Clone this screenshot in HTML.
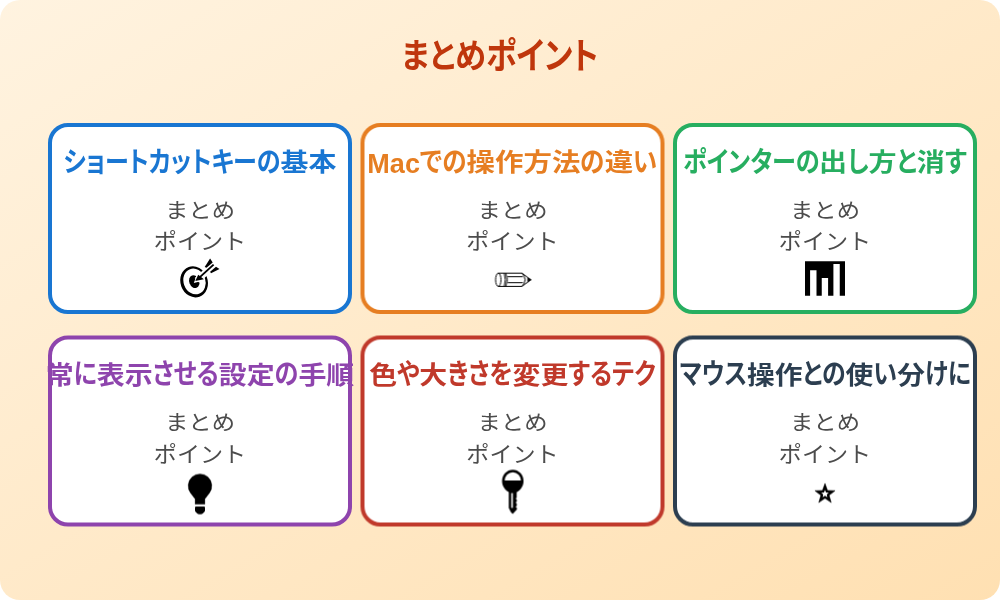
<!DOCTYPE html>
<html lang="ja">
<head>
<meta charset="utf-8">
<title>まとめポイント</title>
<style>
*{box-sizing:border-box;margin:0;padding:0}
html,body{width:1000px;height:600px;background:#fff;overflow:hidden}
body{font-family:"Liberation Sans","Noto Sans CJK JP",sans-serif;position:relative}
.bg{position:absolute;left:0;top:0;width:1000px;height:600px;border-radius:20px;background:linear-gradient(to bottom right,#FFF3E0 0%,#FFE0B2 100%)}
h1{will-change:transform;position:absolute;left:0;top:34px;width:1000px;text-align:center;font-size:34px;line-height:44px;font-weight:700;color:#BF360C;white-space:nowrap;font-feature-settings:"palt"}
h1 span{display:inline-block;transform:scaleX(.912)}
h1 i{display:inline-block;font-style:normal;transform:translateY(.5px) scaleY(1.07)}
.card{position:absolute;width:304px;height:191px;background:#fff;border:4px solid;border-radius:20px}
.card h2{will-change:transform;position:absolute;left:-54px;top:17.5px;width:404px;text-align:center;font-size:24.5px;line-height:36px;font-weight:700;white-space:nowrap;font-feature-settings:"palt"}
.card h2 b{font-size:27px;font-weight:700;line-height:0;position:relative;top:1.5px}
.card h2 span{display:inline-block;transform-origin:50% 50%}
.card h2 i{display:inline-block;font-style:normal}
.card h2 i.k{transform:translateY(-.6px) scaleY(1.15);transform-origin:50% 46%}
.card h2 i.j{transform:scaleX(1.16)}
.card h2 i.j1{margin:0 1.96px}
.card h2 i.j2{margin:0 3.92px}
.card h2 i.j3{margin:0 5.88px}
.card h2 i.j4{margin:0 7.84px}
.card p{will-change:transform;position:absolute;left:-4px;width:304px;text-align:center;font-size:22px;line-height:30px;color:#4c4c4c;white-space:nowrap;font-weight:400}
.card p span{display:inline-block;transform:scaleX(1.05)}
.card p.l1 span{transform:scale(1.06,.94)}
.card p.l1{top:69px}
.card p.l2{top:100px}
.c1{left:48px;top:123px;border-color:#1976D2;color:#1976D2}
.c2{left:360px;top:123px;transform:translate(.5px,0);border-color:#E67E22;color:#E67E22}
.c3{left:673px;top:123px;border-color:#27AE60;color:#27AE60}
.c4{left:48px;top:335px;transform:translate(0,.5px);border-color:#8E44AD;color:#8E44AD}
.c5{left:360px;top:335px;transform:translate(.5px,.5px);border-color:#C0392B;color:#C0392B}
.c6{left:673px;top:335px;transform:translate(0,.5px);border-color:#2C3E50;color:#2C3E50}
.ico{position:absolute;display:block;overflow:visible}
</style>
</head>
<body>
<div class="bg"></div>
<h1><span>まとめ<i>ポイント</i></span></h1>

<div class="card c1">
  <h2><span style="transform:scaleX(0.982)"><i class="k">ショートカットキーの</i><i class="j j2">基本</i></span></h2>
  <p class="l1"><span>まとめ</span></p><p class="l2"><span>ポイント</span></p>
  <svg class="ico" style="left:123px;top:128px" width="50" height="45" viewBox="175 255 50 45">
    <g transform="rotate(-20 194.1 281.8)"><ellipse cx="194.1" cy="281.8" rx="13.6" ry="15.8" fill="#000"/><ellipse cx="194.6" cy="281.6" rx="10.9" ry="13.1" fill="#fff"/><ellipse cx="194.3" cy="281.7" rx="5" ry="6.6" fill="#000"/></g>
    <line x1="197" y1="280.4" x2="207" y2="271" stroke="#fff" stroke-width="6.6"/>
    <polygon points="193.8,283.1 197.5,273.3 205.6,280.1" fill="#fff"/>
    <polygon points="195.25,280.9 198.25,274.65 203.9,279.15" fill="#000"/>
    <line x1="198.5" y1="278.4" x2="213.6" y2="264.6" stroke="#000" stroke-width="1.9"/>
    <polygon points="210.1,258.6 212.7,262.4 206.5,267.8 204.7,267.1" fill="#000"/>
    <polygon points="219.5,268.9 216,266.7 210.1,271.8 211,273.2" fill="#000"/>
  </svg>
</div>
<div class="card c2">
  <h2><span style="transform:scaleX(1.001)"><b>Mac</b><i class="k">での</i><i class="j j4">操作方法</i><i class="k">の</i><i class="j j1">違</i><i class="k">い</i></span></h2>
  <p class="l1"><span>まとめ</span></p><p class="l2"><span>ポイント</span></p>
  <svg class="ico" style="left:125.5px;top:138px" width="45" height="30" viewBox="490 265 45 30" fill="none" stroke="#000" stroke-width="1" stroke-linejoin="round">
    <path d="M497.8 273.2 H521.5 L530.4 279.8 L521.5 286.4 H497.8"/>
    <ellipse cx="497.8" cy="279.8" rx="2.7" ry="6.6"/>
    <path d="M503.8 273.2 Q505.8 279.8 503.8 286.4 M505.4 273.2 Q507.8 279.8 505.4 286.4"/>
    <path d="M506.8 276.7 H522.4 M506.8 282.7 H522.4"/>
    <path d="M507.4 276.7 V282.7" stroke="#aaa" stroke-width=".6"/>
    <path d="M521.5 273.2 Q527.6 279.8 521.5 286.4"/>
    <polygon points="527.2,277.8 530.5,279.8 527.2,281.8" fill="#000" stroke-width=".6"/>
  </svg>
</div>
<div class="card c3">
  <h2><span style="transform:scaleX(0.986)"><i class="k">ポインターの</i><i class="j j1">出</i><i class="k">し</i><i class="j j1">方</i><i class="k">と</i><i class="j j1">消</i><i class="k">す</i></span></h2>
  <p class="l1"><span>まとめ</span></p><p class="l2"><span>ポイント</span></p>
  <svg class="ico" style="left:123px;top:129px" width="50" height="45" viewBox="800 256 50 45">
    <path fill="#000" d="M805 261.25 H845 V295.75 H839.75 V263.9 H833.4 V295.75 H828.1 V278.1 H821.75 V295.75 H816.5 V270.25 H810.1 V295.75 H805 Z"/>
  </svg>
</div>
<div class="card c4">
  <h2><span style="transform:scaleX(0.983)"><i class="j j1">常</i><i class="k">に</i><i class="j j2">表示</i><i class="k">させる</i><i class="j j2">設定</i><i class="k">の</i><i class="j j2">手順</i></span></h2>
  <p class="l1"><span>まとめ</span></p><p class="l2"><span>ポイント</span></p>
  <svg class="ico" style="left:128px;top:128.5px" width="40" height="50" viewBox="180 468 40 50">
    <path fill="#000" stroke="#000" stroke-width=".3" stroke-linejoin="round" d="M195.1 503.8 V498.6 L190.48 492.44 A11.9 11.9 0 1 1 209.52 492.44 L204.9 498.6 V503.8 Z"/>
    <path fill="#000" d="M196 506 H204 Q205 506 205 507 V510 Q205 510.8 204.3 511.4 L202.8 513 Q202 513.8 201 513.8 H199 Q198 513.8 197.2 513 L195.7 511.4 Q195 510.8 195 510 V507 Q195 506 196 506 Z"/>
  </svg>
</div>
<div class="card c5">
  <h2><span style="transform:scaleX(0.981)"><i class="j j1">色</i><i class="k">や</i><i class="j j1">大</i><i class="k">きさを</i><i class="j j2">変更</i><i class="k">するテク</i></span></h2>
  <p class="l1"><span>まとめ</span></p><p class="l2"><span>ポイント</span></p>
  <svg class="ico" style="left:127.5px;top:125.5px" width="40" height="50" viewBox="492 465 40 50">
    <ellipse cx="512.3" cy="480.6" rx="9.5" ry="10.2" fill="#fff" stroke="#000" stroke-width="2.5"/>
    <path fill="#000" d="M502.3 480 H522.3 C522.3 487 518.3 492.4 512.3 492.4 C506.3 492.4 502.3 487 502.3 480 Z"/>
    <path fill="#000" d="M508.3 491 H516.2 V497.2 L515.2 498 L516.3 499.3 V501 L515.2 502 L516.3 503.3 V505.2 L515.2 506.2 L516.4 507.6 V509 L512.2 513.4 L510.3 511.5 L508.3 507.5 Z"/>
    <rect x="510.75" y="492.6" width="1.6" height="14.8" fill="#fff"/>
  </svg>
</div>
<div class="card c6">
  <h2><span style="transform:scaleX(0.976)"><i class="k">マウス</i><i class="j j2">操作</i><i class="k">との</i><i class="j j1">使</i><i class="k">い</i><i class="j j1">分</i><i class="k">けに</i></span></h2>
  <p class="l1"><span>まとめ</span></p><p class="l2"><span>ポイント</span></p>
  <svg class="ico" style="left:133px;top:137.5px" width="30" height="30" viewBox="810 477 30 30">
    <polygon fill="#000" stroke="#000" stroke-width=".5" points="825.00,482.90 827.56,489.98 835.08,490.22 829.14,494.84 831.23,502.08 825.00,497.85 818.77,502.08 820.86,494.84 814.92,490.22 822.44,489.98"/>
    <polygon fill="#fff" points="825.00,489.40 826.09,491.90 828.80,492.16 826.76,493.97 827.35,496.64 825.00,495.25 822.65,496.64 823.24,493.97 821.20,492.16 823.91,491.90"/>
  </svg>
</div>
</body>
</html>
